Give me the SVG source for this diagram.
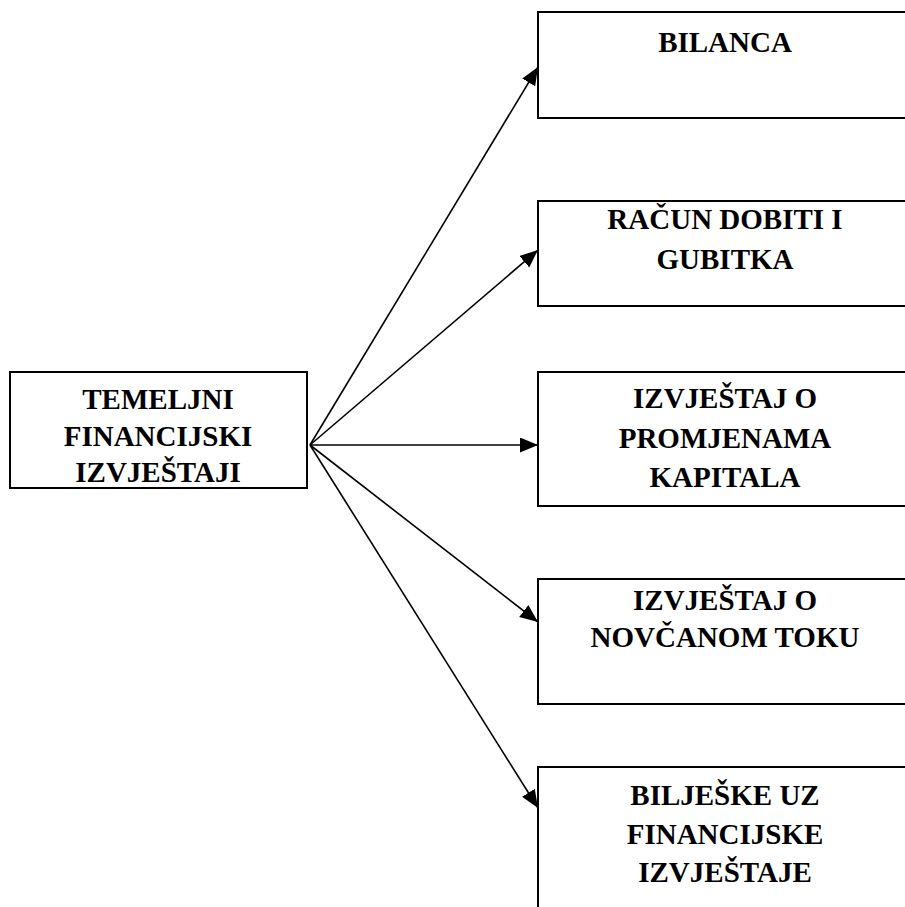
<svg xmlns="http://www.w3.org/2000/svg" width="905" height="907" viewBox="0 0 905 907">
<style>
.box{fill:#fff;stroke:#000;stroke-width:2}
.lbl{font-family:"Liberation Serif","Times New Roman",serif;font-weight:bold;font-size:29px;fill:#000;text-anchor:middle}
.conn{stroke:#000;stroke-width:1.6;fill:none;marker-end:url(#ah)}
</style>
<defs>
<marker id="ah" markerUnits="userSpaceOnUse" markerWidth="20" markerHeight="16" refX="18" refY="7.5" orient="auto">
<path d="M0,0 L18,7.5 L0,15 z" fill="#000"/>
</marker>
</defs>
<g id="connectors">
<line class="conn" x1="310" y1="445" x2="538" y2="67"/>
<line class="conn" x1="310" y1="445" x2="538" y2="250"/>
<line class="conn" x1="310" y1="445" x2="538" y2="445"/>
<line class="conn" x1="310" y1="445" x2="538" y2="622"/>
<line class="conn" x1="310" y1="445" x2="538" y2="808"/>
</g>
<g id="node-temeljni">
<rect class="box" x="10" y="372" width="297" height="116"/>
<text class="lbl" x="158" y="409">TEMELJNI</text>
<text class="lbl" x="158" y="446">FINANCIJSKI</text>
<text class="lbl" x="158" y="482">IZVJEŠTAJI</text>
</g>
<g id="node-bilanca">
<rect class="box" x="538" y="12" width="380" height="106"/>
<text class="lbl" x="725" y="52">BILANCA</text>
</g>
<g id="node-racun">
<rect class="box" x="538" y="201" width="380" height="105"/>
<text class="lbl" x="725" y="229">RAČUN DOBITI I</text>
<text class="lbl" x="725" y="269">GUBITKA</text>
</g>
<g id="node-promjene">
<rect class="box" x="538" y="372" width="380" height="134"/>
<text class="lbl" x="725" y="408">IZVJEŠTAJ O</text>
<text class="lbl" x="725" y="448">PROMJENAMA</text>
<text class="lbl" x="725" y="487">KAPITALA</text>
</g>
<g id="node-novcani">
<rect class="box" x="538" y="579" width="380" height="125"/>
<text class="lbl" x="725" y="610">IZVJEŠTAJ O</text>
<text class="lbl" x="725" y="647">NOVČANOM TOKU</text>
</g>
<g id="node-biljeske">
<rect class="box" x="538" y="767" width="380" height="160"/>
<text class="lbl" x="725" y="805">BILJEŠKE UZ</text>
<text class="lbl" x="725" y="844">FINANCIJSKE</text>
<text class="lbl" x="725" y="882">IZVJEŠTAJE</text>
</g>
</svg>
